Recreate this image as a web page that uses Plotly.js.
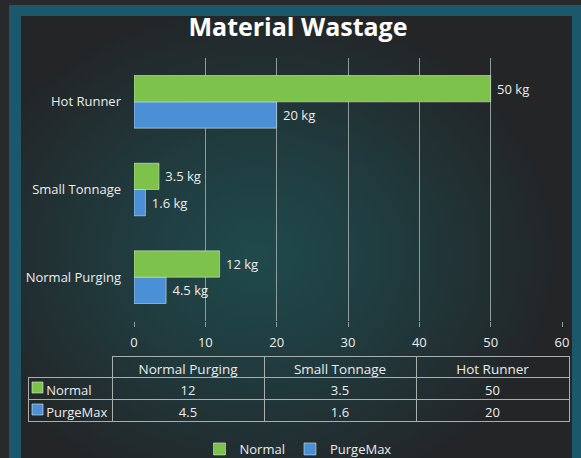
<!DOCTYPE html>
<html>
<head>
<meta charset="utf-8">
<script src="https://cdn.plot.ly/plotly-3.0.1.min.js"></script>
<style>html,body{margin:0;padding:0;background:#29292b;}#chart{width:581px;height:458px;}</style>
</head>
<body>
<div id="chart"></div>
<script>
var categories = ['Normal Purging', 'Small Tonnage', 'Hot Runner'];
var normalValues = [12, 3.5, 50];
var purgeMaxValues = [4.5, 1.6, 20];
var seriesNames = ['Normal', 'PurgeMax'];
var xTicks = [0, 10, 20, 30, 40, 50, 60];
var unit = 'kg';

var GREEN = '#7dc24b', BLUE = '#4b8fd7', TXT = '#ececec', GRID = '#8e9c9c', TLINE = '#a9aeae';
var FONT = 'Open Sans';

var W = 581, H = 458;
function px(x){ return x / W; }
function py(y){ return (H - y) / H; }

var bgSvg = '<svg xmlns="http://www.w3.org/2000/svg" width="581" height="458">' +
  '<defs><radialGradient id="g" cx="0.43" cy="0.52" r="0.55">' +
  '<stop offset="0" stop-color="#1f4a4c"/>' +
  '<stop offset="0.45" stop-color="#203b3e"/>' +
  '<stop offset="1" stop-color="#232527"/>' +
  '</radialGradient></defs>' +
  '<rect width="581" height="458" fill="#29292b"/>' +
  '<rect x="9" y="5" width="572" height="470" fill="#1c586c"/>' +
  '<rect x="21" y="16" width="551" height="460" fill="url(#g)"/>' +
  '</svg>';
var bgSrc = 'data:image/svg+xml;charset=utf-8,' + encodeURIComponent(bgSvg);

var barLine = {color: 'rgba(225,235,225,0.55)', width: 1};
var NB = '\u00a0';

var traces = [
  {
    type: 'bar', orientation: 'h', name: seriesNames[1],
    y: categories, x: purgeMaxValues,
    marker: {color: BLUE, line: barLine},
    texttemplate: NB + '%{x} ' + unit, textposition: 'outside',
    textfont: {color: TXT, size: 13, family: FONT},
    cliponaxis: false, hoverinfo: 'skip'
  },
  {
    type: 'bar', orientation: 'h', name: seriesNames[0],
    y: categories, x: normalValues,
    marker: {color: GREEN, line: barLine},
    texttemplate: NB + '%{x} ' + unit, textposition: 'outside',
    textfont: {color: TXT, size: 13, family: FONT},
    cliponaxis: false, hoverinfo: 'skip'
  },
  {
    type: 'table',
    domain: {x: [px(28), px(569)], y: [py(422), py(356)]},
    columnwidth: [84, 152, 152, 153],
    header: {
      values: [[''], [categories[0]], [categories[1]], [categories[2]]],
      align: 'center', height: 21,
      line: {color: ['rgba(0,0,0,0)', TLINE, TLINE, TLINE], width: 1},
      fill: {color: 'rgba(0,0,0,0)'},
      font: {color: TXT, size: 13.5, family: FONT}
    },
    cells: {
      values: [
        [seriesNames[0], seriesNames[1]],
        [normalValues[0], purgeMaxValues[0]],
        [normalValues[1], purgeMaxValues[1]],
        [normalValues[2], purgeMaxValues[2]]
      ],
      prefix: [NB + NB + NB, '', '', ''],
      align: ['left', 'center', 'center', 'center'], height: 22,
      line: {color: TLINE, width: 1},
      fill: {color: 'rgba(0,0,0,0)'},
      font: {color: TXT, size: 13, family: FONT}
    }
  }
];

var keyShapes = [GREEN, BLUE].map(function(c, i){
  var top = 382 + i * 22;
  return {type: 'rect', xref: 'paper', yref: 'paper', x0: px(32), x1: px(43), y0: py(top + 11), y1: py(top),
          fillcolor: c, line: {color: 'rgba(225,235,225,0.6)', width: 1}, layer: 'above'};
});

var layout = {
  width: W, height: H,
  margin: {l: 0, r: 0, t: 0, b: 0, autoexpand: false},
  paper_bgcolor: '#29292b',
  plot_bgcolor: 'rgba(0,0,0,0)',
  images: [{source: bgSrc, xref: 'paper', yref: 'paper', x: 0, y: 1, sizex: 1, sizey: 1,
            xanchor: 'left', yanchor: 'top', sizing: 'stretch', layer: 'below'}],
  shapes: keyShapes,
  title: {text: 'Material Wastage', x: px(298), xanchor: 'center', y: py(27), yanchor: 'middle',
          font: {family: FONT, size: 25, color: '#ffffff', weight: 'bold'}},
  barmode: 'group', bargap: 0.4, bargroupgap: 0,
  showlegend: true,
  legend: {orientation: 'h', x: px(298), xanchor: 'center', y: py(449), yanchor: 'middle',
           traceorder: 'reversed', font: {color: TXT, size: 13, family: FONT},
           bgcolor: 'rgba(0,0,0,0)', itemwidth: 30},
  xaxis: {
    domain: [px(134), px(562)], range: [0, 60], tickvals: xTicks,
    showgrid: true, gridcolor: GRID, gridwidth: 1, zeroline: false, showline: false,
    ticks: 'outside', ticklen: 5, tickcolor: GRID, ticklabelstandoff: 4,
    tickfont: {color: TXT, size: 13, family: FONT}, fixedrange: true
  },
  yaxis: {
    domain: [py(321), py(58)], type: 'category', categoryorder: 'array', categoryarray: categories,
    range: [-0.5, 2.5], showgrid: false, zeroline: false, showline: false,
    ticks: '', ticklabelstandoff: 12,
    tickfont: {color: TXT, size: 13, family: FONT}, fixedrange: true
  }
};

Plotly.newPlot('chart', traces, layout, {displayModeBar: false, staticPlot: true});
</script>
</body>
</html>
